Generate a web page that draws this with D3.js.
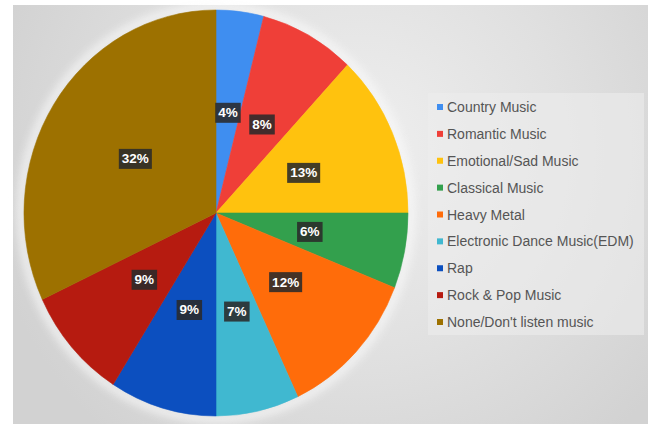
<!DOCTYPE html>
<html>
<head>
<meta charset="utf-8">
<script src="https://cdn.jsdelivr.net/npm/d3@7"></script>
<style>
  html, body { margin: 0; padding: 0; background: #ffffff; }
  svg { display: block; }
</style>
</head>
<body>
<svg id="chart" width="653" height="424"></svg>
<script>
// Music genre preferences (share of respondents, %)
const categories = [
  "Country Music",
  "Romantic Music",
  "Emotional/Sad Music",
  "Classical Music",
  "Heavy Metal",
  "Electronic Dance Music(EDM)",
  "Rap",
  "Rock & Pop Music",
  "None/Don't listen music"
];
const shares = [4, 8, 13, 6, 12, 7, 9, 9, 32];
const sliceColors = [
  "#3f8ef0", "#ef3f38", "#ffc20e", "#33a04d", "#ff6c0a",
  "#40b8d0", "#0c4fbf", "#b61b10", "#9d7100"
];

const svg = d3.select("#chart");
const defs = svg.append("defs");

// backdrop: grey panel with a soft light glow
const bg = defs.append("radialGradient").attr("id", "bgGlow")
  .attr("gradientUnits", "userSpaceOnUse")
  .attr("cx", 360).attr("cy", 150).attr("r", 380);
bg.append("stop").attr("offset", 0).attr("stop-color", "#efefef");
bg.append("stop").attr("offset", 0.55).attr("stop-color", "#e0e0e0");
bg.append("stop").attr("offset", 1).attr("stop-color", "#d2d2d2");

const soft = defs.append("filter").attr("id", "soft")
  .attr("x", "-20%").attr("y", "-20%").attr("width", "140%").attr("height", "140%");
soft.append("feGaussianBlur").attr("stdDeviation", 4);

const panel = { x: 13, y: 5, w: 635, h: 419 };
svg.append("rect")
  .attr("x", panel.x).attr("y", panel.y)
  .attr("width", panel.w).attr("height", panel.h)
  .attr("fill", "url(#bgGlow)");

// pie geometry (slightly elliptical)
const cx = 216, cy = 213, ry = 203, rx = 192;

// light halo around the pie edge
svg.append("ellipse")
  .attr("cx", cx).attr("cy", cy).attr("rx", rx + 3).attr("ry", ry + 3)
  .attr("fill", "none").attr("stroke", "#fbfbfb").attr("stroke-width", 7)
  .attr("opacity", 0.8).attr("filter", "url(#soft)");

const pie = d3.pie().sort(null).value(d => d)(shares);
const arc = d3.arc().innerRadius(0).outerRadius(ry);

const pieG = svg.append("g")
  .attr("transform", `translate(${cx},${cy}) scale(${rx / ry},1)`);
pieG.selectAll("path.slice")
  .data(pie)
  .join("path")
  .attr("class", "slice")
  .attr("d", arc)
  .attr("fill", (d, i) => sliceColors[i])
  .attr("stroke", (d, i) => sliceColors[i])
  .attr("stroke-width", 0.6);

// data labels: dark boxes with white percentage text
const labelG = svg.append("g");
pie.forEach((d, i) => {
  const a = (d.startAngle + d.endAngle) / 2;
  const r = 101;
  const x = cx + Math.sin(a) * r * (rx / ry);
  const y = cy - Math.cos(a) * r;
  const g = labelG.append("g").attr("transform", `translate(${x},${y})`);
  const t = g.append("text")
    .attr("text-anchor", "middle")
    .attr("dominant-baseline", "central")
    .attr("font-family", "Liberation Sans, Arial, sans-serif")
    .attr("font-weight", "bold")
    .attr("font-size", 13.5)
    .attr("fill", "#ffffff")
    .text(shares[i] + "%");
  const bb = t.node().getBBox();
  g.insert("rect", "text")
    .attr("x", bb.x - 3).attr("y", -10)
    .attr("width", bb.width + 6).attr("height", 20)
    .attr("fill", "#2a2a2a").attr("opacity", 0.88);
});

// legend panel
svg.append("rect")
  .attr("x", 428).attr("y", 93).attr("width", 216).attr("height", 242)
  .attr("fill", "#ececec").attr("opacity", 0.6);

const legendY = d3.scalePoint().domain(categories).range([107, 322]);
const legend = svg.append("g");
categories.forEach((c, i) => {
  const y = legendY(c);
  legend.append("rect")
    .attr("x", 437).attr("y", y - 3).attr("width", 6).attr("height", 6)
    .attr("fill", sliceColors[i]);
  legend.append("text")
    .attr("x", 447).attr("y", y)
    .attr("dominant-baseline", "central")
    .attr("font-family", "Liberation Sans, Arial, sans-serif")
    .attr("font-size", 14)
    .attr("fill", "#555555")
    .text(c);
});
</script>
</body>
</html>
